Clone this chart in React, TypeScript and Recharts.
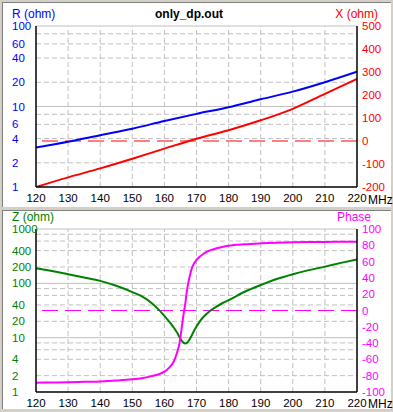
import { LineChart, Line, XAxis, YAxis, ReferenceLine } from 'recharts';

// top panel: R / X vs frequency
const topFreq = [120, 130, 140, 150, 160, 170, 180, 190, 200, 210, 220];
const rOhm = [3.1, 3.65, 4.4, 5.3, 6.6, 8.1, 9.8, 12.3, 15.3, 20, 27];
const xOhm = [-200, -158, -119, -77, -33, 10, 47, 90, 140, 205, 270];

// bottom panel: |Z| / phase vs frequency
const bottomFreq = [
  120, 125, 130, 135, 140, 145, 150, 153, 156, 158, 160, 161, 162, 163, 163.5, 164, 164.5, 165,
  165.5, 166, 166.5, 167, 167.5, 168, 168.5, 169, 170, 171, 172, 173, 174, 176, 178, 180, 185,
  190, 195, 200, 205, 210, 215, 220,
];
const zOhm = [
  190, 168, 147, 128, 111, 90, 69, 57.5, 43.6, 33.9, 25.1, 21.4, 18.2, 15.1, 13.6, 12.3, 10.8,
  9.5, 8.6, 8.0, 7.85, 8.0, 8.7, 9.7, 11.0, 12.6, 16.0, 19.8, 23.5, 27, 30.3, 36.5, 43, 49, 70,
  93, 120, 147, 175, 203, 238, 276,
];
const phaseDeg = [
  -88.6, -88.3, -88, -87.5, -87, -86, -84.5, -83, -80.5, -78.5, -75, -72, -68, -62, -57, -51,
  -44, -33, -18, -4, 8, 24, 35, 44, 51, 56, 62, 66, 69, 71.5, 73.5, 76, 78, 79.5, 81.3, 82.4,
  83.2, 83.7, 84, 84.2, 84.3, 84.4,
];

const freqTicks = [120, 130, 140, 150, 160, 170, 180, 190, 200, 210, 220];
const freqGrid = [130, 140, 150, 160, 170, 180, 190, 200, 210];
const rTicks = [1, 2, 4, 6, 10, 20, 40, 60, 100];
const rGridDashed = [2, 4, 6, 8, 20, 40, 60, 80];
const rGridSolid = [10, 100];
const xTicks = [-200, -100, 0, 100, 200, 300, 400, 500];
const zTicks = [1, 2, 4, 10, 20, 40, 100, 200, 400, 1000];
const zGridDashed = [2, 4, 6, 8, 20, 40, 60, 80, 200, 400, 600, 800];
const zGridSolid = [10, 100, 1000];
const phaseTicks = [-100, -80, -60, -40, -20, 0, 20, 40, 60, 80, 100];

const topData = topFreq.map((f, i) => ({ f, r: rOhm[i], x: xOhm[i] }));
const bottomData = bottomFreq.map((f, i) => ({ f, z: zOhm[i], ph: phaseDeg[i] }));

const FONT = '"Liberation Sans", Arial, sans-serif';
const GRID = '#c0c0c0';
const TICK_SIZE = 11.5;

function LeftTick(props: any) {
  const { y, payload, color } = props;
  return (
    <text x={12} y={y} fill={color} fontSize={TICK_SIZE} fontFamily={FONT} dominantBaseline="central">
      {payload.value}
    </text>
  );
}

function RightTick(props: any) {
  const { x, y, payload, color } = props;
  return (
    <text x={x + 5} y={y} fill={color} fontSize={TICK_SIZE} fontFamily={FONT} dominantBaseline="central">
      {payload.value}
    </text>
  );
}

function FreqTick(props: any) {
  const { x, y, payload } = props;
  return (
    <text x={x} y={y + 11} fill="#000" fontSize={TICK_SIZE} fontFamily={FONT} textAnchor="middle" dominantBaseline="central">
      {payload.value}
    </text>
  );
}

const label = (text: string, color: string, style: React.CSSProperties, bold = false) => (
  <div
    style={{
      position: 'absolute',
      fontFamily: FONT,
      fontSize: 12,
      lineHeight: '10px',
      color,
      fontWeight: bold ? 'bold' : 'normal',
      whiteSpace: 'nowrap',
      ...style,
    }}
  >
    {text}
  </div>
);

export default function App() {
  return (
    <div style={{ position: 'relative', width: 393, height: 412, background: '#d4d0c8', overflow: 'hidden' }}>
      <style>{'body{margin:0}'}</style>
      <div style={{ position: 'absolute', left: 2, top: 2, width: 388, height: 204, background: '#fff', borderTop: '1px solid #808080', borderLeft: '1px solid #808080' }} />
      <div style={{ position: 'absolute', left: 2, top: 210, width: 388, height: 198, background: '#fff', borderTop: '1px solid #808080', borderLeft: '1px solid #808080' }} />

      <div style={{ position: 'absolute', left: 0, top: 0 }}>
        <LineChart width={393} height={208} data={topData} margin={{ top: 26, right: 0, bottom: 1, left: 6 }}>
          <XAxis
            dataKey="f"
            type="number"
            domain={[120, 220]}
            ticks={freqTicks}
            interval={0}
            height={20}
            tickSize={0}
            tickMargin={0}
            tickLine={false}
            axisLine={{ stroke: '#000', strokeWidth: 1.5 }}
            tick={(p: any) => <FreqTick {...p} />}
            allowDataOverflow
          />
          <YAxis
            yAxisId="left"
            scale="log"
            type="number"
            domain={[1, 100]}
            ticks={rTicks}
            interval={0}
            width={30}
            tickSize={0}
            tickLine={false}
            axisLine={{ stroke: '#000', strokeWidth: 1.5 }}
            tick={(p: any) => <LeftTick {...p} color="#0000ff" />}
            allowDataOverflow
          />
          <YAxis
            yAxisId="right"
            orientation="right"
            type="number"
            domain={[-200, 500]}
            ticks={xTicks}
            interval={0}
            width={36}
            tickSize={0}
            tickMargin={0}
            tickLine={false}
            axisLine={{ stroke: '#000', strokeWidth: 1.5 }}
            tick={(p: any) => <RightTick {...p} color="#ff0000" />}
            allowDataOverflow
          />
          {freqGrid.map((v) => (
            <ReferenceLine key={'fv' + v} x={v} yAxisId="left" stroke={GRID} strokeDasharray="5 3" />
          ))}
          {rGridDashed.map((v) => (
            <ReferenceLine key={'rd' + v} y={v} yAxisId="left" stroke={GRID} strokeDasharray="5 3" />
          ))}
          {rGridSolid.map((v) => (
            <ReferenceLine key={'rs' + v} y={v} yAxisId="left" stroke={GRID} />
          ))}
          <ReferenceLine y={0} yAxisId="right" stroke="#ff0000" strokeDasharray="16 7" />
          <Line yAxisId="left" dataKey="r" type="monotone" stroke="#0000ff" strokeWidth={2} dot={false} isAnimationActive={false} />
          <Line yAxisId="right" dataKey="x" type="monotone" stroke="#ff0000" strokeWidth={2} dot={false} isAnimationActive={false} />
        </LineChart>
      </div>

      <div style={{ position: 'absolute', left: 0, top: 208 }}>
        <LineChart width={393} height={204} data={bottomData} margin={{ top: 21, right: 0, bottom: 0, left: 6 }}>
          <XAxis
            dataKey="f"
            type="number"
            domain={[120, 220]}
            ticks={freqTicks}
            interval={0}
            height={20}
            tickSize={0}
            tickMargin={0}
            tickLine={false}
            axisLine={{ stroke: '#000', strokeWidth: 1.5 }}
            tick={(p: any) => <FreqTick {...p} />}
            allowDataOverflow
          />
          <YAxis
            yAxisId="left"
            scale="log"
            type="number"
            domain={[1, 1000]}
            ticks={zTicks}
            interval={0}
            width={30}
            tickSize={0}
            tickLine={false}
            axisLine={{ stroke: '#000', strokeWidth: 1.5 }}
            tick={(p: any) => <LeftTick {...p} color="#008000" />}
            allowDataOverflow
          />
          <YAxis
            yAxisId="right"
            orientation="right"
            type="number"
            domain={[-100, 100]}
            ticks={phaseTicks}
            interval={0}
            width={36}
            tickSize={0}
            tickMargin={0}
            tickLine={false}
            axisLine={{ stroke: '#000', strokeWidth: 1.5 }}
            tick={(p: any) => <RightTick {...p} color="#ff00ff" />}
            allowDataOverflow
          />
          {freqGrid.map((v) => (
            <ReferenceLine key={'fv' + v} x={v} yAxisId="left" stroke={GRID} strokeDasharray="5 3" />
          ))}
          {zGridDashed.map((v) => (
            <ReferenceLine key={'zd' + v} y={v} yAxisId="left" stroke={GRID} strokeDasharray="5 3" />
          ))}
          {zGridSolid.map((v) => (
            <ReferenceLine key={'zs' + v} y={v} yAxisId="left" stroke={GRID} />
          ))}
          <ReferenceLine y={0} yAxisId="right" stroke="#ff00ff" strokeDasharray="16 7" />
          <Line yAxisId="left" dataKey="z" type="monotone" stroke="#008000" strokeWidth={2} dot={false} isAnimationActive={false} />
          <Line yAxisId="right" dataKey="ph" type="monotone" stroke="#ff00ff" strokeWidth={2} dot={false} isAnimationActive={false} />
        </LineChart>
      </div>

      {label('R (ohm)', '#0000ff', { left: 12, top: 9 })}
      {label('X (ohm)', '#ff0000', { right: 15, top: 9 })}
      {label('only_dp.out', '#000', { left: 155, top: 9 }, true)}
      {label('MHz', '#000', { left: 368, top: 194.5 })}
      {label('Z (ohm)', '#008000', { left: 12, top: 212 })}
      {label('Phase', '#ff00ff', { right: 22, top: 212 })}
      {label('MHz', '#000', { left: 368, top: 398.5 })}
    </div>
  );
}
